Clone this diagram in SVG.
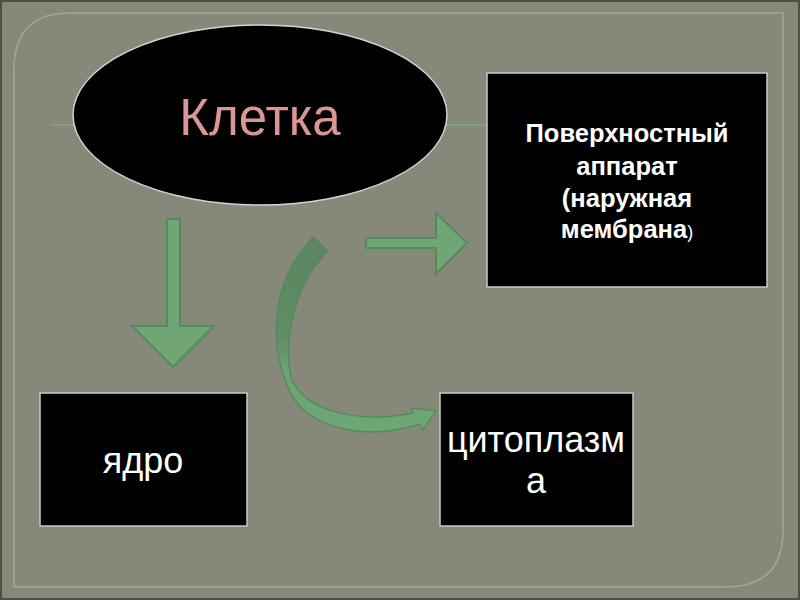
<svg xmlns="http://www.w3.org/2000/svg" width="800" height="600" viewBox="0 0 800 600">
<defs>
<style>
.bg{fill:#86897a}
.frame{fill:none;stroke:#a3a691;stroke-width:1.5}
.gline{stroke:#7ea37c;stroke-width:2}
.box{fill:#000;stroke:#c8c8c8;stroke-width:1.5}
.arrow{fill:#70a676;stroke:#558b5c;stroke-width:2;stroke-linejoin:miter}
.t{font-family:"Liberation Sans",Arial,sans-serif;fill:#fff;text-anchor:middle}
.b{font-weight:bold;font-size:25.5px}
.r{font-size:36px}
</style>
<linearGradient id="cg" x1="0" y1="0" x2="0" y2="1">
<stop offset="0" stop-color="#5a8661"/>
<stop offset="0.5" stop-color="#5f8d64"/>
<stop offset="0.7" stop-color="#6ea473"/>
<stop offset="1" stop-color="#6fa675"/>
</linearGradient>
</defs>
<rect x="0" y="0" width="800" height="600" fill="#4d5047"/>
<rect class="bg" x="2" y="2" width="796" height="596"/>
<path class="frame" d="M14 587 L14 70 Q14 13 70 13 L783 13 L783 530 Q783 587 726 587 Z"/>
<g id="connectors">
<line class="gline" x1="51" y1="125" x2="74" y2="125"/>
<line class="gline" x1="446" y1="125" x2="487" y2="125"/>
<path class="arrow" d="M167 219 L180 219 L180 326 L214 326 L173 367 L132 326 L167 326 Z"/>
<path class="arrow" d="M366 238 L436 238 L436 213 L467 243 L436 274 L436 248 L366 248 Z"/>
<path d="M313 237 L328 251 C298 280 282 335 291 378 C305 412 360 424 413 413 L412 408 L436 411 L423 430 L420 424 C365 442 308 428 290 392 C268 345 270 282 313 237 Z" fill="url(#cg)" stroke="#558b5c" stroke-width="1.5"/>
</g>
<g id="cell">
<ellipse cx="260" cy="115" rx="187" ry="90" fill="#000" stroke="#d4d4d4" stroke-width="1.5"/>
<text x="260" y="135" font-family="Liberation Sans,Arial,sans-serif" font-size="51" fill="#d99694" text-anchor="middle">Клетка</text>
</g>
<g id="surface">
<rect class="box" x="487" y="73" width="280" height="214"/>
<text class="t b" x="627" y="142">Поверхностный</text>
<text class="t b" x="627" y="175">аппарат</text>
<text class="t b" x="627" y="207">(наружная</text>
<text class="t b" x="627" y="238">мембрана<tspan font-weight="normal" font-size="18">)</tspan></text>
</g>
<g id="nucleus">
<rect class="box" x="40" y="393" width="207" height="133"/>
<text class="t r" x="143" y="473">ядро</text>
</g>
<g id="cytoplasm">
<rect class="box" x="440" y="393" width="193" height="133"/>
<text class="t r" x="536" y="452">цитоплазм</text>
<text class="t r" x="536" y="493">а</text>
</g>
</svg>
